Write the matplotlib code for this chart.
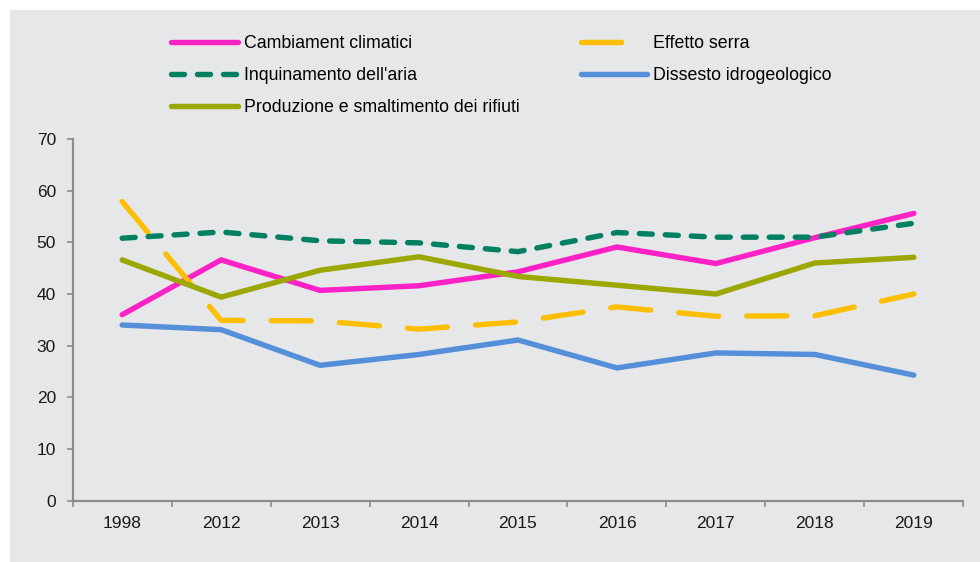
import matplotlib
matplotlib.use('Agg')
import matplotlib.pyplot as plt
from matplotlib.patches import Rectangle
import numpy as np

plt.rcParams['font.family'] = ['Liberation Sans', 'DejaVu Sans']

# data
years = ['1998', '2012', '2013', '2014', '2015', '2016', '2017', '2018', '2019']
cambiamenti = [36.0, 46.6, 40.7, 41.6, 44.3, 49.1, 45.9, 50.9, 55.6]
effetto_serra = [57.9, 34.9, 34.8, 33.2, 34.6, 37.5, 35.7, 35.8, 40.0]
inquinamento = [50.8, 52.0, 50.3, 49.9, 48.2, 51.9, 51.0, 51.0, 53.7]
dissesto = [34.0, 33.1, 26.2, 28.3, 31.1, 25.7, 28.6, 28.3, 24.3]
rifiuti = [46.6, 39.4, 44.6, 47.2, 43.4, 41.7, 40.0, 46.0, 47.1]

labels = ['Cambiament climatici', 'Effetto serra', "Inquinamento dell'aria",
          'Dissesto idrogeologico', 'Produzione e smaltimento dei rifiuti']
colors = ['#FF22C4', '#FFBF00', '#008062', '#568FD9', '#9CA700']

bg = '#E6E7E9'
fig = plt.figure(figsize=(9.8, 5.62), dpi=100)
fig.patch.set_facecolor('white')
fig.patches.append(Rectangle((10/980, 0), 1 - 10/980, (562-10)/562,
                             transform=fig.transFigure, facecolor=bg,
                             edgecolor='none', zorder=-10))

ax = fig.add_axes([72.7/980, (562-500.7)/562, (963.3-72.7)/980, (500.7-139)/562])
ax.set_facecolor(bg)
ax.patch.set_alpha(0)

x = np.arange(len(years))
lw = 3.9
l1, = ax.plot(x, cambiamenti, color=colors[0], lw=lw, solid_capstyle='round', solid_joinstyle='miter')
l2, = ax.plot(x, effetto_serra, color=colors[1], lw=lw, dash_capstyle='round')
l2.set_dashes((7.4, 5.2))
l3, = ax.plot(x, inquinamento, color=colors[2], lw=lw, dash_capstyle='round')
l3.set_dashes((2.4, 2.4))
l4, = ax.plot(x, dissesto, color=colors[3], lw=lw, solid_capstyle='round', solid_joinstyle='miter')
l5, = ax.plot(x, rifiuti, color=colors[4], lw=lw, solid_capstyle='round', solid_joinstyle='miter')

ax.set_xlim(-0.5, len(years) - 0.5)
ax.set_ylim(0, 70)
ax.set_yticks(np.arange(0, 71, 10))
ax.set_xticks(np.arange(-0.5, len(years), 1.0))
ax.set_xticklabels([])
ax.set_xticks(x, minor=True)
ax.set_xticklabels(years, minor=True)
ax.tick_params(axis='x', which='major', length=4, color='#8c8c8c', width=1.2)
ax.tick_params(axis='x', which='minor', length=0, pad=11, labelsize=12.5, labelcolor='#1a1a1a')
ax.tick_params(axis='y', length=4, color='#8c8c8c', width=1.2, pad=8, labelsize=12.5, labelcolor='#1a1a1a')
for s in ['top', 'right']:
    ax.spines[s].set_visible(False)
for s in ['left', 'bottom']:
    ax.spines[s].set_color('#8c8c8c')
    ax.spines[s].set_linewidth(1.6)

handles = [l1, l3, l5, l2, l4]
hl = [labels[0], labels[2], labels[4], labels[1], labels[3]]
leg = fig.legend(handles, hl, ncol=2, loc='upper left',
                 bbox_to_anchor=(164/980, 1 - 28/562), frameon=False,
                 fontsize=12.8, handlelength=3.75, handletextpad=0.33,
                 columnspacing=3.45, labelspacing=0.84, borderaxespad=0)

fig.savefig('out.png', dpi=100, facecolor='white')
